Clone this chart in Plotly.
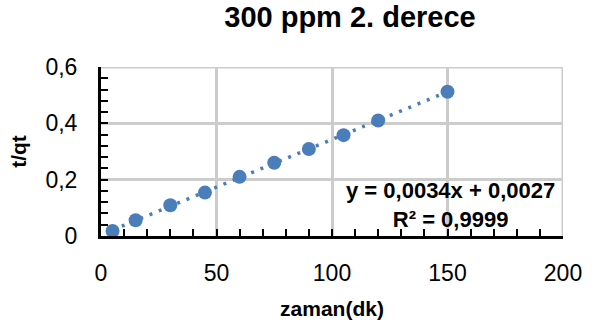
import numpy as np
import plotly.graph_objects as go

zaman = [5, 15, 30, 45, 60, 75, 90, 105, 120, 150]
t_qt = [0.0175, 0.056, 0.109, 0.154, 0.210, 0.260, 0.309, 0.358, 0.410, 0.512]
x_ticks = [0, 50, 100, 150, 200]
y_ticks = [0, 0.2, 0.4, 0.6]

W, H = 594, 329
L, R, T, B = 101, 25, 67, 91

slope, inter = np.polyfit(zaman, t_qt, 1)
xs = np.array([min(zaman), max(zaman)])

color = "#4A7EBB"
grid = "#cccccc"
fig = go.Figure()
fig.add_trace(go.Scatter(x=xs, y=slope * xs + inter, mode="lines",
                         line=dict(color=color, width=3.5, dash="3px,7px"),
                         hoverinfo="skip", showlegend=False))
fig.add_trace(go.Scatter(x=zaman, y=t_qt, mode="markers",
                         marker=dict(color=color, size=14, line=dict(width=0)),
                         showlegend=False))

font = "Liberation Sans, Arial, sans-serif"
fig.update_layout(
    width=W, height=H,
    margin=dict(l=L, r=R, t=T, b=B),
    paper_bgcolor="white", plot_bgcolor="white",
    separators=", ",
    font=dict(family=font, color="black", size=23),
    title=dict(text="<b>300 ppm 2. derece</b>", font=dict(size=29, family=font, color="black"),
               x=350 / W, xanchor="center", xref="container",
               y=1 - 17 / H, yanchor="middle", yref="container"),
    xaxis=dict(range=[0, 200], tickmode="array", tickvals=x_ticks,
               showgrid=True, gridcolor=grid, gridwidth=3,
               zeroline=False, showline=True, linecolor="black", linewidth=3,
               ticks="inside", ticklen=7, tickwidth=2, tickcolor="black",
               minor=dict(tickmode="linear", dtick=10, ticks="inside", ticklen=7, tickwidth=2,
                          tickcolor="black", showgrid=False),
               ticklabelstandoff=14,
               title=dict(text="<b>zaman(dk)</b>", font=dict(size=21), standoff=17)),
    yaxis=dict(range=[0, 0.6], tickmode="array", tickvals=y_ticks,
               showgrid=True, gridcolor=grid, gridwidth=3,
               zeroline=False, showline=True, linecolor="black", linewidth=3,
               ticks="inside", ticklen=7, tickwidth=2, tickcolor="black",
               minor=dict(tickmode="linear", dtick=0.04, ticks="inside", ticklen=7, tickwidth=2,
                          tickcolor="black", showgrid=False),
               ticklabelstandoff=16,
               title=dict(text="<b>t/qt</b>", font=dict(size=21), standoff=14)),
    annotations=[dict(text="<b>y = 0,0034x + 0,0027<br>R² = 0,9999</b>",
                      xref="paper", yref="paper",
                      x=(455 - L) / (W - L - R), y=(238 - 207) / (238 - 67),
                      xanchor="center", yanchor="middle", align="center", showarrow=False,
                      font=dict(size=22, family=font, color="black"))],
)
# gridlines at the far ends of the ranges (plotly skips them)
fig.add_shape(type="line", xref="x", yref="paper", x0=x_ticks[-1], x1=x_ticks[-1], y0=0, y1=1,
              line=dict(color=grid, width=3), layer="below")
fig.add_shape(type="line", xref="paper", yref="y", x0=0, x1=1, y0=y_ticks[-1], y1=y_ticks[-1],
              line=dict(color=grid, width=3), layer="below")

fig.write_html("out.html")
